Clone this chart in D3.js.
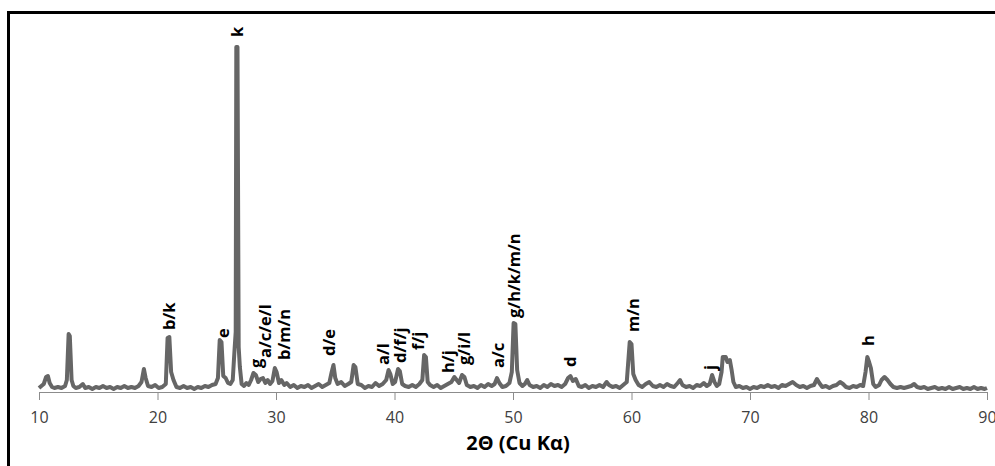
<!DOCTYPE html>
<html>
<head>
<meta charset="utf-8">
<script src="https://cdn.jsdelivr.net/npm/d3@7"></script>
<style>
  html, body { margin: 0; padding: 0; background: #ffffff; overflow: hidden; }
  svg { display: block; }
</style>
</head>
<body>
<svg id="chart" width="995" height="466"></svg>
<script>
// ---- data ----
// XRD pattern: [2theta (deg), intensity (a.u.)]
const pattern = [
  [10.0,4],[10.2,6],[10.4,8],[10.6,15],[10.75,16],[10.9,9],[11.1,5],[11.3,4],[11.6,5],[11.9,4],
  [12.2,6],[12.35,12],[12.5,58],[12.6,56],[12.75,12],[12.9,6],[13.1,4],[13.4,5],[13.7,8],[13.9,4],
  [14.2,5],[14.5,3],[14.8,5],[15.1,4],[15.4,6],[15.7,4],[16.0,5],[16.3,3],[16.6,5],[16.9,4],
  [17.2,6],[17.5,4],[17.8,5],[18.1,4],[18.4,6],[18.65,10],[18.85,23],[19.0,14],[19.2,6],[19.5,5],
  [19.8,7],[20.1,4],[20.4,5],[20.7,8],[20.85,54],[21.0,55],[21.15,20],[21.35,12],[21.6,5],[21.9,4],
  [22.2,6],[22.5,4],[22.8,5],[23.1,3],[23.4,5],[23.7,4],[24.0,6],[24.3,5],[24.6,7],[24.9,8],
  [25.1,14],[25.25,52],[25.4,50],[25.55,16],[25.75,14],[25.95,9],[26.15,8],[26.35,12],[26.5,42],[26.6,60],
  [26.65,345],[26.75,345],[26.85,45],[26.95,25],[27.1,8],[27.3,6],[27.5,9],[27.7,7],[27.9,12],[28.1,19],
  [28.3,17],[28.5,10],[28.7,13],[28.9,14],[29.1,9],[29.3,12],[29.5,8],[29.7,11],[29.9,24],[30.05,20],
  [30.25,9],[30.45,12],[30.7,7],[30.9,9],[31.2,5],[31.5,7],[31.8,4],[32.1,6],[32.4,5],[32.7,7],
  [33.0,4],[33.3,6],[33.6,8],[33.9,5],[34.2,7],[34.5,9],[34.7,20],[34.85,27],[35.0,14],[35.2,8],
  [35.5,10],[35.8,6],[36.1,8],[36.35,10],[36.55,27],[36.7,25],[36.9,8],[37.2,7],[37.5,4],[37.8,6],
  [38.1,5],[38.4,9],[38.7,6],[39.0,8],[39.3,12],[39.5,22],[39.65,18],[39.85,8],[40.05,10],[40.3,23],
  [40.45,21],[40.65,8],[40.9,6],[41.2,5],[41.5,7],[41.8,5],[42.1,8],[42.35,12],[42.5,37],[42.65,35],
  [42.8,10],[43.0,7],[43.3,5],[43.6,7],[43.9,4],[44.2,6],[44.5,8],[44.8,10],[45.05,15],[45.25,12],
  [45.45,9],[45.7,17],[45.9,15],[46.1,7],[46.4,5],[46.7,6],[47.0,4],[47.3,7],[47.6,5],[47.9,8],
  [48.2,6],[48.45,8],[48.65,14],[48.85,9],[49.1,5],[49.4,6],[49.7,9],[49.9,20],[50.05,69],[50.2,68],
  [50.35,22],[50.55,9],[50.8,6],[51.0,8],[51.2,12],[51.4,7],[51.7,5],[52.0,6],[52.3,4],[52.6,7],
  [52.9,5],[53.2,8],[53.5,6],[53.8,7],[54.1,5],[54.4,8],[54.65,14],[54.85,16],[55.05,11],[55.3,13],
  [55.55,6],[55.8,5],[56.1,7],[56.4,4],[56.7,6],[57.0,5],[57.3,7],[57.6,5],[57.9,10],[58.1,7],
  [58.4,5],[58.7,6],[59.0,4],[59.3,7],[59.6,10],[59.85,50],[60.0,48],[60.15,18],[60.35,12],[60.6,7],
  [60.9,5],[61.2,8],[61.5,10],[61.8,6],[62.1,5],[62.4,7],[62.7,5],[63.0,8],[63.3,6],[63.6,5],
  [63.9,9],[64.1,12],[64.3,7],[64.6,5],[64.9,6],[65.2,4],[65.5,7],[65.8,6],[66.1,9],[66.35,6],
  [66.6,8],[66.8,17],[67.0,10],[67.2,6],[67.4,8],[67.6,20],[67.7,35],[67.95,35],[68.1,30],[68.3,32],
  [68.45,22],[68.6,10],[68.8,5],[69.1,6],[69.4,4],[69.7,5],[70.0,3],[70.3,5],[70.6,4],[70.9,6],
  [71.2,5],[71.5,7],[71.8,5],[72.1,6],[72.4,4],[72.7,7],[73.0,6],[73.3,8],[73.6,10],[73.9,7],
  [74.2,5],[74.5,6],[74.8,4],[75.1,6],[75.4,7],[75.65,13],[75.85,9],[76.1,5],[76.4,6],[76.7,4],
  [77.0,6],[77.3,7],[77.6,10],[77.85,8],[78.1,5],[78.4,4],[78.7,6],[79.0,5],[79.3,7],[79.55,6],
  [79.75,20],[79.9,35],[80.05,30],[80.2,24],[80.4,8],[80.6,5],[80.9,7],[81.1,12],[81.35,15],[81.6,12],
  [81.85,8],[82.1,5],[82.4,4],[82.7,5],[83.0,4],[83.3,5],[83.6,6],[83.85,8],[84.1,5],[84.4,4],
  [84.7,5],[85.0,3],[85.3,4],[85.6,5],[85.9,3],[86.2,4],[86.5,3],[86.8,5],[87.1,3],[87.4,4],
  [87.7,5],[88.0,3],[88.3,4],[88.6,3],[88.9,5],[89.2,3],[89.5,4],[89.8,3],[90.0,4]
];

// peak phase labels: text, 2theta position, intensity level where the label starts
const peakLabels = [
  ["b/k", 20.9, 62], ["e", 25.45, 54], ["k", 26.7, 355], ["g", 28.3, 24],
  ["a/c/e/l", 29.05, 34], ["b/m/n", 30.6, 32], ["d/e", 34.4, 36], ["a/l", 38.95, 27],
  ["d/f/j", 40.45, 29], ["f/j", 41.9, 42], ["h/j", 44.45, 19], ["g/i/l", 45.8, 27],
  ["a/c", 48.65, 24], ["g/h/k/m/n", 50.0, 74], ["d", 54.8, 25], ["m/n", 60.05, 60],
  ["j", 66.55, 22], ["h", 79.95, 46]
];

const xTicks = [10, 20, 30, 40, 50, 60, 70, 80, 90];
const xDomain = [10, 90];
const yDomain = [0, 350];
const xTitle = "2Θ (Cu Kα)";

// ---- drawing ----
const svg = d3.select("#chart");

// outer frame
svg.append("rect")
  .attr("x", 8.5).attr("y", 12.5)
  .attr("width", 1100).attr("height", 600)
  .attr("fill", "none").attr("stroke", "#000").attr("stroke-width", 3);

const x = d3.scaleLinear().domain(xDomain).range([39, 987]);
const y = d3.scaleLinear().domain(yDomain).range([392, 42]);

const xAxis = d3.axisBottom(x)
  .tickValues(xTicks)
  .tickFormat(d3.format("d"))
  .tickSize(8)
  .tickPadding(12)
  .tickSizeOuter(0);

const gx = svg.append("g")
  .attr("transform", `translate(0,${y(0)})`)
  .call(xAxis);
gx.select(".domain").attr("stroke", "#8c8c8c").attr("stroke-width", 1);
gx.selectAll(".tick line").attr("stroke", "#8c8c8c").attr("stroke-width", 1);
gx.selectAll(".tick text")
  .attr("fill", "#404040")
  .style("font-family", "'Open Sans', 'Noto Sans', sans-serif")
  .style("font-size", "16px");

// pattern line
const line = d3.line()
  .x(d => x(d[0]))
  .y(d => y(d[1]));

svg.append("path")
  .datum(pattern)
  .attr("d", line)
  .attr("fill", "none")
  .attr("stroke", "#666666")
  .attr("stroke-width", 4)
  .attr("stroke-linejoin", "round")
  .attr("stroke-linecap", "butt");

// peak labels (rotated)
svg.append("g")
  .selectAll("text")
  .data(peakLabels)
  .join("text")
  .attr("transform", d => `translate(${x(d[1])},${y(d[2])}) rotate(-90)`)
  .attr("text-anchor", "start")
  .attr("dominant-baseline", "central")
  .attr("fill", "#000")
  .style("font-family", "'Open Sans', 'Noto Sans', sans-serif")
  .style("font-weight", "bold")
  .style("font-size", "16.5px")
  .text(d => d[0]);

// axis title
svg.append("text")
  .attr("x", (x(xDomain[0]) + x(xDomain[1])) / 2 + 5)
  .attr("y", 450)
  .attr("text-anchor", "middle")
  .attr("fill", "#000")
  .style("font-family", "'Open Sans', 'Noto Sans', sans-serif")
  .style("font-weight", "bold")
  .style("font-size", "20px")
  .text(xTitle);
</script>
</body>
</html>
